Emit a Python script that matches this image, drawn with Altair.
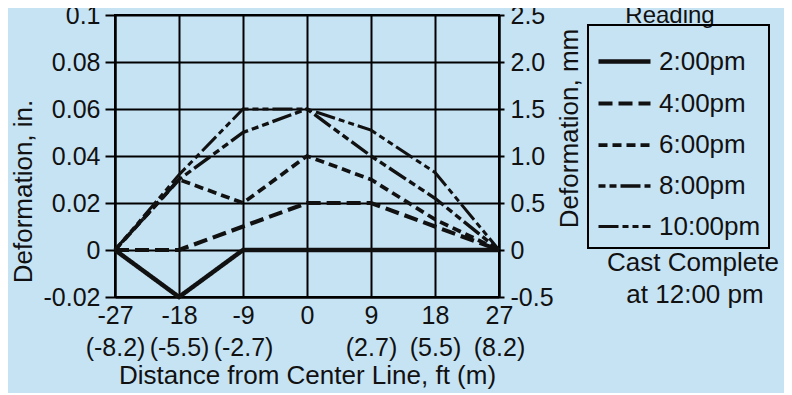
import altair as alt
import pandas as pd

# ---- data ----
x_ft = [-27, -18, -9, 0, 9, 18, 27]
x_ft_labels = ["-27", "-18", "-9", "0", "9", "18", "27"]
x_m_labels = ["(-8.2)", "(-5.5)", "(-2.7)", "", "(2.7)", "(5.5)", "(8.2)"]

series = ["2:00pm", "4:00pm", "6:00pm", "8:00pm", "10:00pm"]
def_2pm = [0, -0.02, 0, 0, 0, 0, 0]
def_4pm = [0, 0, 0.01, 0.02, 0.02, 0.01, 0]
def_6pm = [0, 0.03, 0.02, 0.04, 0.03, 0.013, 0]
def_8pm = [0, 0.03, 0.05, 0.06, 0.04, 0.022, 0]
def_10pm = [0, 0.032, 0.06, 0.06, 0.051, 0.033, 0]

y_in_ticks = [-0.02, 0, 0.02, 0.04, 0.06, 0.08, 0.1]
y_in_labels = ["-0.02", "0", "0.02", "0.04", "0.06", "0.08", "0.1"]
y_mm_ticks = [-0.5, 0, 0.5, 1.0, 1.5, 2.0, 2.5]
y_mm_labels = ["-0.5", "0", "0.5", "1.0", "1.5", "2.0", "2.5"]

dash_patterns = [[1, 0], [14, 6], [9, 5], [7, 4, 7, 4, 20, 4], [20, 4, 6, 4, 6, 4]]
line_widths = [4.5, 3, 3, 3, 3]

FONT = "Liberation Sans"
INK = "#111111"
BG = "#c6e3f4"

rows = []
for name, vals in zip(series, [def_2pm, def_4pm, def_6pm, def_8pm, def_10pm]):
    for xv, yv in zip(x_ft, vals):
        rows.append({"reading": name, "x": xv, "y": yv})
df = pd.DataFrame(rows)


def lookup_expr(ticks, labels):
    parts = [f"abs(datum.value - ({t})) < 1e-9 ? '{l}'" for t, l in zip(ticks, labels)]
    return " : ".join(parts) + " : ''"


x_label_expr = " : ".join(
    f"datum.value == {t} ? ['{a}', '{b}']" for t, a, b in zip(x_ft, x_ft_labels, x_m_labels)
) + " : ''"

legend = alt.Legend(
    title=None, orient="none", legendX=473, legendY=10,
    symbolType="stroke", symbolSize=2704, symbolStrokeColor=INK,
    labelFontSize=26, labelFont=FONT, labelColor=INK, labelOffset=6,
    rowPadding=-2, padding=8, strokeColor="black",
)

lines = alt.Chart(df).mark_line(color=INK).encode(
    x=alt.X("x:Q", scale=alt.Scale(domain=[-27, 27], nice=False),
            axis=alt.Axis(values=x_ft, labelExpr=x_label_expr, title="Distance from Center Line, ft (m)",
                          grid=True, gridColor="black", gridWidth=2, gridOpacity=1,
                          ticks=False, labelPadding=6, labelFontSize=25, labelLineHeight=32,
                          labelBaseline="top", labelFont=FONT, labelColor=INK,
                          labelOverlap=False, labelFlush=False, labelBound=False,
                          titleFontSize=26, titleFont=FONT, titleColor=INK, titleFontWeight="normal",
                          titleBaseline="alphabetic", titleY=86,
                          domainColor="black", domainWidth=2)),
    y=alt.Y("y:Q", scale=alt.Scale(domain=[-0.02, 0.1], nice=False),
            axis=alt.Axis(values=y_in_ticks, labelExpr=lookup_expr(y_in_ticks, y_in_labels),
                          title="Deformation, in.", orient="left",
                          grid=True, gridColor="black", gridWidth=2, gridOpacity=1,
                          tickSize=10, tickWidth=2, tickColor="black", labelPadding=5,
                          labelFontSize=25, labelFont=FONT, labelColor=INK,
                          labelOverlap=False, labelFlush=False, labelBound=False,
                          titleFontSize=26, titleFont=FONT, titleColor=INK, titleFontWeight="normal",
                          titleX=-92, titleY=176, titleAlign="center", titleBaseline="middle",
                          titleAngle=270,
                          domainColor="black", domainWidth=2)),
    strokeDash=alt.StrokeDash("reading:N", scale=alt.Scale(domain=series, range=dash_patterns), legend=legend),
    strokeWidth=alt.StrokeWidth("reading:N", scale=alt.Scale(domain=series, range=line_widths), legend=legend),
    order=alt.Order("x:Q"),
)

mm_df = pd.DataFrame({"mm": y_mm_ticks})
right_axis = alt.Chart(mm_df).mark_point(opacity=0).encode(
    y=alt.Y("mm:Q", scale=alt.Scale(domain=[-0.5, 2.5], nice=False),
            axis=alt.Axis(values=y_mm_ticks, labelExpr=lookup_expr(y_mm_ticks, y_mm_labels),
                          title="Deformation, mm", orient="right", grid=False,
                          tickSize=5, tickWidth=2, tickColor="black", labelPadding=6,
                          labelFontSize=25, labelFont=FONT, labelColor=INK,
                          labelOverlap=False, labelFlush=False, labelBound=False,
                          titleFontSize=26, titleFont=FONT, titleColor=INK, titleFontWeight="normal",
                          titleX=70, titleY=113, titleAlign="center", titleBaseline="middle",
                          titleAngle=270,
                          domainColor="black", domainWidth=2)),
)

notes = pd.DataFrame({"t": ["Reading", "Cast Complete", "at 12:00 pm"],
                      "px": [555, 578, 580], "py": [1, 248, 280], "fs": [24, 26, 26]})
note_layers = []
for _, r in notes.iterrows():
    note_layers.append(
        alt.Chart(pd.DataFrame({"t": [r["t"]]})).mark_text(
            fontSize=int(r["fs"]), font=FONT, color=INK, align="center", baseline="middle"
        ).encode(text="t:N", x=alt.value(int(r["px"])), y=alt.value(int(r["py"])))
    )

chart = alt.layer(lines, right_axis, *note_layers).resolve_scale(y="independent").properties(
    width=384, height=282,
    autosize=alt.AutoSizeParams(type="none"),
    padding={"left": 107, "top": 7, "right": 285, "bottom": 96},
    background=BG,
).configure_view(stroke="black", strokeWidth=2).configure_legend(strokeWidth=2)

chart.save("out.html", embed_options={"renderer": "svg", "actions": False})
